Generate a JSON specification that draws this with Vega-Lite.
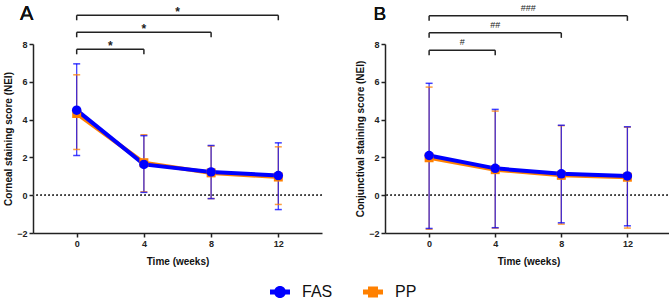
{
  "$schema": "https://vega.github.io/schema/vega-lite/v6.json",
  "padding": {"left": 3, "top": 3, "right": 2, "bottom": 2},
  "spacing": 32,
  "config": {
    "view": {"stroke": null},
    "font": "Liberation Sans",
    "axis": {"grid": false, "domainColor": "#222", "domainWidth": 1.5, "tickColor": "#222", "tickWidth": 1.5, "tickSize": 4, "labelFont": "Liberation Sans", "labelFontWeight": "bold", "labelFontSize": 9, "labelColor": "#222", "labelPadding": 2, "titleFont": "Liberation Sans", "titleFontWeight": "bold", "titleFontSize": 10, "titleColor": "#111", "labelOverlap": false},
    "axisY": {"titlePadding": 3},
    "axisX": {"titlePadding": 8}
  },
  "datasets": {
    "a": [
      {"group": "PP", "week": 0, "mean": 4.32, "lo": 2.42, "hi": 6.37},
      {"group": "PP", "week": 4, "mean": 1.72, "lo": 0.18, "hi": 3.2},
      {"group": "PP", "week": 8, "mean": 1.18, "lo": -0.18, "hi": 2.6},
      {"group": "PP", "week": 12, "mean": 0.96, "lo": -0.49, "hi": 2.56},
      {"group": "FAS", "week": 0, "mean": 4.5, "lo": 2.1, "hi": 6.95},
      {"group": "FAS", "week": 4, "mean": 1.63, "lo": 0.15, "hi": 3.15},
      {"group": "FAS", "week": 8, "mean": 1.23, "lo": -0.18, "hi": 2.63},
      {"group": "FAS", "week": 12, "mean": 1.04, "lo": -0.76, "hi": 2.77}
    ],
    "b": [
      {"group": "PP", "week": 0, "mean": 1.98, "lo": -1.8, "hi": 5.72},
      {"group": "PP", "week": 4, "mean": 1.35, "lo": -1.74, "hi": 4.45},
      {"group": "PP", "week": 8, "mean": 1.05, "lo": -1.53, "hi": 3.68},
      {"group": "PP", "week": 12, "mean": 0.95, "lo": -1.74, "hi": 3.6},
      {"group": "FAS", "week": 0, "mean": 2.1, "lo": -1.76, "hi": 5.92},
      {"group": "FAS", "week": 4, "mean": 1.42, "lo": -1.72, "hi": 4.54},
      {"group": "FAS", "week": 8, "mean": 1.13, "lo": -1.46, "hi": 3.7},
      {"group": "FAS", "week": 12, "mean": 1.02, "lo": -1.62, "hi": 3.62}
    ],
    "sigA": [
      {"x0": 0, "x1": 4, "mid": 2, "level": 7.72, "label": "*"},
      {"x0": 0, "x1": 8, "mid": 4, "level": 8.62, "label": "*"},
      {"x0": 0, "x1": 12, "mid": 6, "level": 9.52, "label": "*"}
    ],
    "sigB": [
      {"x0": 0, "x1": 4, "mid": 2, "level": 7.67, "label": "#"},
      {"x0": 0, "x1": 8, "mid": 4, "level": 8.59, "label": "##"},
      {"x0": 0, "x1": 12, "mid": 6, "level": 9.49, "label": "###"}
    ]
  },
  "hconcat": [
    {
      "width": 289,
      "height": 189,
      "encoding": {
        "x": {"type": "quantitative", "scale": {"domain": [-2.6, 14.6], "nice": false}, "axis": {"values": [0, 4, 8, 12], "title": "Time (weeks)", "labelOverlap": false}},
        "y": {"type": "quantitative", "scale": {"domain": [-2, 8], "nice": false}, "axis": {"values": [-2, 0, 2, 4, 6, 8], "title": "Corneal staining score (NEI)", "labelOverlap": false}}
      },
      "layer": [
        {
          "data": {"name": "a"},
          "mark": {"type": "rule", "strokeDash": [1.5, 2.5], "color": "#444", "strokeWidth": 1},
          "encoding": {"y": {"datum": 0}}
        },
        {
          "data": {"name": "a"},
          "mark": {"type": "rule", "strokeWidth": 1.3, "opacity": 0.75},
          "encoding": {
            "x": {"field": "week"},
            "y": {"field": "lo"},
            "y2": {"field": "hi"},
            "color": {
              "field": "group", "type": "nominal",
              "scale": {"domain": ["FAS", "PP"], "range": ["#0000ff", "#ff8000"]},
              "legend": {
                "orient": "none", "legendX": 237, "legendY": 238, "direction": "horizontal", "title": null,
                "labelFontSize": 16, "labelFont": "Liberation Sans", "labelColor": "#111", "symbolSize": 400,
                "labelOffset": 12, "columnPadding": 30, "padding": 0, "symbolStrokeWidth": 0, "symbolOpacity": 1,
                "encode": {
                  "symbols": {
                    "update": {
                      "shape": {"signal": "datum.value == 'FAS' ? 'M-1,-0.25L1,-0.25L1,0.25L-1,0.25Z M0,-0.6A0.6,0.6,0,1,1,0,0.6A0.6,0.6,0,1,1,0,-0.6Z' : 'M-1,-0.25L1,-0.25L1,0.25L-1,0.25Z M-0.5,-0.55L0.5,-0.55L0.5,0.55L-0.5,0.55Z'"},
                      "fill": {"signal": "datum.value == 'FAS' ? '#0000ff' : '#ff8000'"},
                      "opacity": {"value": 1}
                    }
                  }
                }
              }
            }
          }
        },
        {
          "data": {"name": "a"},
          "mark": {"type": "tick", "orient": "horizontal", "size": 7, "thickness": 1.5, "opacity": 0.75},
          "encoding": {"x": {"field": "week"}, "y": {"field": "lo"}, "color": {"field": "group", "type": "nominal"}}
        },
        {
          "data": {"name": "a"},
          "mark": {"type": "tick", "orient": "horizontal", "size": 7, "thickness": 1.5, "opacity": 0.75},
          "encoding": {"x": {"field": "week"}, "y": {"field": "hi"}, "color": {"field": "group", "type": "nominal"}}
        },
        {
          "data": {"name": "a"},
          "mark": {"type": "line", "strokeWidth": 4},
          "encoding": {"x": {"field": "week"}, "y": {"field": "mean"}, "color": {"field": "group", "type": "nominal"}}
        },
        {
          "data": {"name": "a"},
          "transform": [{"filter": "datum.group == 'PP'"}],
          "mark": {"type": "square", "opacity": 1, "size": 80},
          "encoding": {"x": {"field": "week"}, "y": {"field": "mean"}, "color": {"field": "group", "type": "nominal"}}
        },
        {
          "data": {"name": "a"},
          "transform": [{"filter": "datum.group == 'FAS'"}],
          "mark": {"type": "circle", "opacity": 1, "size": 90},
          "encoding": {"x": {"field": "week"}, "y": {"field": "mean"}, "color": {"field": "group", "type": "nominal"}}
        },
        {
          "data": {"name": "sigA"},
          "mark": {"type": "rule", "color": "#222", "strokeWidth": 1.5, "clip": false},
          "encoding": {"x": {"field": "x0"}, "x2": {"field": "x1"}, "y": {"field": "level"}}
        },
        {
          "data": {"name": "sigA"},
          "mark": {"type": "tick", "orient": "vertical", "size": 5, "yOffset": 2.5, "thickness": 1.5, "color": "#222", "opacity": 1, "clip": false},
          "encoding": {"x": {"field": "x0"}, "y": {"field": "level"}}
        },
        {
          "data": {"name": "sigA"},
          "mark": {"type": "tick", "orient": "vertical", "size": 5, "yOffset": 2.5, "thickness": 1.5, "color": "#222", "opacity": 1, "clip": false},
          "encoding": {"x": {"field": "x1"}, "y": {"field": "level"}}
        },
        {
          "data": {"name": "sigA"},
          "mark": {"type": "text", "fontSize": 12, "fontWeight": "bold", "color": "#222", "baseline": "alphabetic", "dy": 1, "clip": false},
          "encoding": {"x": {"field": "mid"}, "y": {"field": "level"}, "text": {"field": "label"}}
        },
        {
          "data": {"name": "sigA"},
          "mark": {"type": "text", "fontSize": 20, "color": "#111", "align": "left", "baseline": "alphabetic", "clip": false},
          "encoding": {"x": {"datum": -3.37}, "y": {"datum": 9.25}, "text": {"value": "A"}}
        }
      ]
    },
    {
      "width": 287,
      "height": 189,
      "encoding": {
        "x": {"type": "quantitative", "scale": {"domain": [-2.67, 14.7], "nice": false}, "axis": {"values": [0, 4, 8, 12], "title": "Time (weeks)", "labelOverlap": false}},
        "y": {"type": "quantitative", "scale": {"domain": [-2, 8], "nice": false}, "axis": {"values": [-2, 0, 2, 4, 6, 8], "title": "Conjunctival staining score (NEI)", "labelOverlap": false}}
      },
      "layer": [
        {
          "data": {"name": "b"},
          "mark": {"type": "rule", "strokeDash": [1.5, 2.5], "color": "#444", "strokeWidth": 1},
          "encoding": {"y": {"datum": 0}}
        },
        {
          "data": {"name": "b"},
          "mark": {"type": "rule", "strokeWidth": 1.3, "opacity": 0.75},
          "encoding": {"x": {"field": "week"}, "y": {"field": "lo"}, "y2": {"field": "hi"}, "color": {"field": "group", "type": "nominal"}}
        },
        {
          "data": {"name": "b"},
          "mark": {"type": "tick", "orient": "horizontal", "size": 7, "thickness": 1.5, "opacity": 0.75},
          "encoding": {"x": {"field": "week"}, "y": {"field": "lo"}, "color": {"field": "group", "type": "nominal"}}
        },
        {
          "data": {"name": "b"},
          "mark": {"type": "tick", "orient": "horizontal", "size": 7, "thickness": 1.5, "opacity": 0.75},
          "encoding": {"x": {"field": "week"}, "y": {"field": "hi"}, "color": {"field": "group", "type": "nominal"}}
        },
        {
          "data": {"name": "b"},
          "mark": {"type": "line", "strokeWidth": 4},
          "encoding": {"x": {"field": "week"}, "y": {"field": "mean"}, "color": {"field": "group", "type": "nominal"}}
        },
        {
          "data": {"name": "b"},
          "transform": [{"filter": "datum.group == 'PP'"}],
          "mark": {"type": "square", "opacity": 1, "size": 80},
          "encoding": {"x": {"field": "week"}, "y": {"field": "mean"}, "color": {"field": "group", "type": "nominal"}}
        },
        {
          "data": {"name": "b"},
          "transform": [{"filter": "datum.group == 'FAS'"}],
          "mark": {"type": "circle", "opacity": 1, "size": 90},
          "encoding": {"x": {"field": "week"}, "y": {"field": "mean"}, "color": {"field": "group", "type": "nominal"}}
        },
        {
          "data": {"name": "sigB"},
          "mark": {"type": "rule", "color": "#222", "strokeWidth": 1.5, "clip": false},
          "encoding": {"x": {"field": "x0"}, "x2": {"field": "x1"}, "y": {"field": "level"}}
        },
        {
          "data": {"name": "sigB"},
          "mark": {"type": "tick", "orient": "vertical", "size": 5, "yOffset": 2.5, "thickness": 1.5, "color": "#222", "opacity": 1, "clip": false},
          "encoding": {"x": {"field": "x0"}, "y": {"field": "level"}}
        },
        {
          "data": {"name": "sigB"},
          "mark": {"type": "tick", "orient": "vertical", "size": 5, "yOffset": 2.5, "thickness": 1.5, "color": "#222", "opacity": 1, "clip": false},
          "encoding": {"x": {"field": "x1"}, "y": {"field": "level"}}
        },
        {
          "data": {"name": "sigB"},
          "mark": {"type": "text", "fontSize": 9, "color": "#222", "baseline": "alphabetic", "dy": -5, "clip": false},
          "encoding": {"x": {"field": "mid"}, "y": {"field": "level"}, "text": {"field": "label"}}
        },
        {
          "data": {"name": "sigB"},
          "mark": {"type": "text", "fontSize": 19, "color": "#111", "align": "left", "baseline": "alphabetic", "clip": false},
          "encoding": {"x": {"datum": -3.37}, "y": {"datum": 9.25}, "text": {"value": "B"}}
        }
      ]
    }
  ]
}
